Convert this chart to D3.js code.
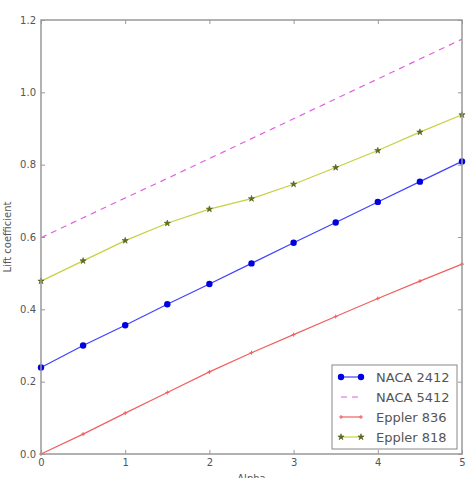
<!DOCTYPE html>
<html>
<head>
<meta charset="utf-8">
<script src="https://cdn.jsdelivr.net/npm/d3@7"></script>
<style>
  body { margin: 0; background: #fff; }
  svg text { font-family: "DejaVu Sans", sans-serif; fill: #555; }
</style>
</head>
<body>
<svg id="chart" width="466" height="478"></svg>
<script>
// values
const alpha = [0, 0.5, 1, 1.5, 2, 2.5, 3, 3.5, 4, 4.5, 5];
const naca2412 = [0.239, 0.30, 0.356, 0.414, 0.47, 0.527, 0.584, 0.64, 0.697, 0.753, 0.809];
const naca5412 = [0.598, 0.653, 0.708, 0.762, 0.817, 0.872, 0.927, 0.982, 1.037, 1.092, 1.147];
const eppler836 = [0, 0.055, 0.113, 0.17, 0.227, 0.28, 0.33, 0.38, 0.43, 0.478, 0.525];
const eppler818 = [0.478, 0.534, 0.59, 0.638, 0.677, 0.706, 0.746, 0.792, 0.839, 0.89, 0.938];
const xTicks = [0, 1, 2, 3, 4, 5];
const yTicks = [0, 0.2, 0.4, 0.6, 0.8, 1.0, 1.2];

const series = [
  { name: "NACA 2412", values: naca2412, color: "#4040ff", marker: "circle", markColor: "#0000e0", dash: null },
  { name: "NACA 5412", values: naca5412, color: "#e060e0", marker: null, dash: "6,5" },
  { name: "Eppler 836", values: eppler836, color: "#f06060", marker: "plus", markColor: "#f06060", dash: null },
  { name: "Eppler 818", values: eppler818, color: "#c8d040", marker: "star", markColor: "#5f7020", dash: null }
];

const svg = d3.select("#chart");
const margin = { top: 20, right: 4, bottom: 24, left: 41 };
const width = 466 - margin.left - margin.right;
const height = 478 - margin.top - margin.bottom;

const g = svg.append("g").attr("transform", `translate(${margin.left},${margin.top})`);

const x = d3.scaleLinear().domain([0, 5]).range([0, width]);
const y = d3.scaleLinear().domain([0, 1.2]).range([height, 0]);

// lines and markers
const line = d3.line().x((d, i) => x(alpha[i])).y(d => y(d));

function drawMarker(sel, type, color, cx, cy) {
  if (type === "circle") {
    sel.append("circle").attr("cx", cx).attr("cy", cy).attr("r", 3.2).attr("fill", color);
  } else if (type === "plus") {
    sel.append("path").attr("d", `M${cx - 2},${cy}H${cx + 2}M${cx},${cy - 2}V${cy + 2}`)
      .attr("stroke", color).attr("stroke-width", 1);
  } else if (type === "star") {
    sel.append("path").attr("d", d3.symbol(d3.symbolStar, 12)())
      .attr("transform", `translate(${cx},${cy})`)
      .attr("fill", color).attr("stroke", "#4a5a18").attr("stroke-width", 0.6);
  }
}

series.forEach(s => {
  g.append("path")
    .datum(s.values)
    .attr("d", line)
    .attr("fill", "none")
    .attr("stroke", s.color)
    .attr("stroke-width", 1.2)
    .attr("stroke-dasharray", s.dash);
  if (s.marker) {
    const mg = g.append("g");
    s.values.forEach((v, i) => drawMarker(mg, s.marker, s.markColor, x(alpha[i]), y(v)));
  }
});

// frame
g.append("rect")
  .attr("width", width).attr("height", height)
  .attr("fill", "none").attr("stroke", "#999").attr("stroke-width", 1.5);

// axes with inward ticks on all sides
const axisStyle = a => {
  a.select(".domain").remove();
  a.selectAll(".tick line").attr("stroke", "#999");
  a.selectAll(".tick text").style("font-size", "10px").attr("fill", "#555");
};

g.append("g").attr("transform", `translate(0,${height})`)
  .call(d3.axisBottom(x).tickValues(xTicks).tickFormat(d3.format("d")).tickSizeInner(-4).tickPadding(5))
  .call(axisStyle);
g.append("g")
  .call(d3.axisTop(x).tickValues(xTicks).tickSizeInner(-4).tickFormat(""))
  .call(axisStyle);
g.append("g")
  .call(d3.axisLeft(y).tickValues(yTicks).tickFormat(d3.format(".1f")).tickSizeInner(-4).tickPadding(5))
  .call(axisStyle);
g.append("g").attr("transform", `translate(${width},0)`)
  .call(d3.axisRight(y).tickValues(yTicks).tickSizeInner(-4).tickFormat(""))
  .call(axisStyle);

// axis labels
svg.append("text")
  .attr("x", margin.left + width / 2).attr("y", 482)
  .attr("text-anchor", "middle").style("font-size", "10px")
  .text("Alpha");
svg.append("text")
  .attr("transform", `translate(11,${margin.top + height / 2}) rotate(-90)`)
  .attr("text-anchor", "middle").style("font-size", "10px")
  .text("Lift coefficient");

// legend
const legend = svg.append("g").attr("transform", "translate(332,365)");
legend.append("rect")
  .attr("width", 125).attr("height", 84)
  .attr("fill", "#fff").attr("stroke", "#888").attr("stroke-width", 1);

series.forEach((s, i) => {
  const row = legend.append("g").attr("transform", `translate(0,${12 + i * 20})`);
  row.append("line")
    .attr("x1", 9).attr("x2", 29).attr("y1", 0).attr("y2", 0)
    .attr("stroke", s.color).attr("stroke-width", 1.2)
    .attr("stroke-dasharray", s.dash);
  if (s.marker) {
    drawMarker(row, s.marker, s.markColor, 9, 0);
    drawMarker(row, s.marker, s.markColor, 29, 0);
  }
  row.append("text")
    .attr("x", 44).attr("y", 5)
    .style("font-size", "13px")
    .attr("fill", "#333")
    .text(s.name);
});
</script>
</body>
</html>
